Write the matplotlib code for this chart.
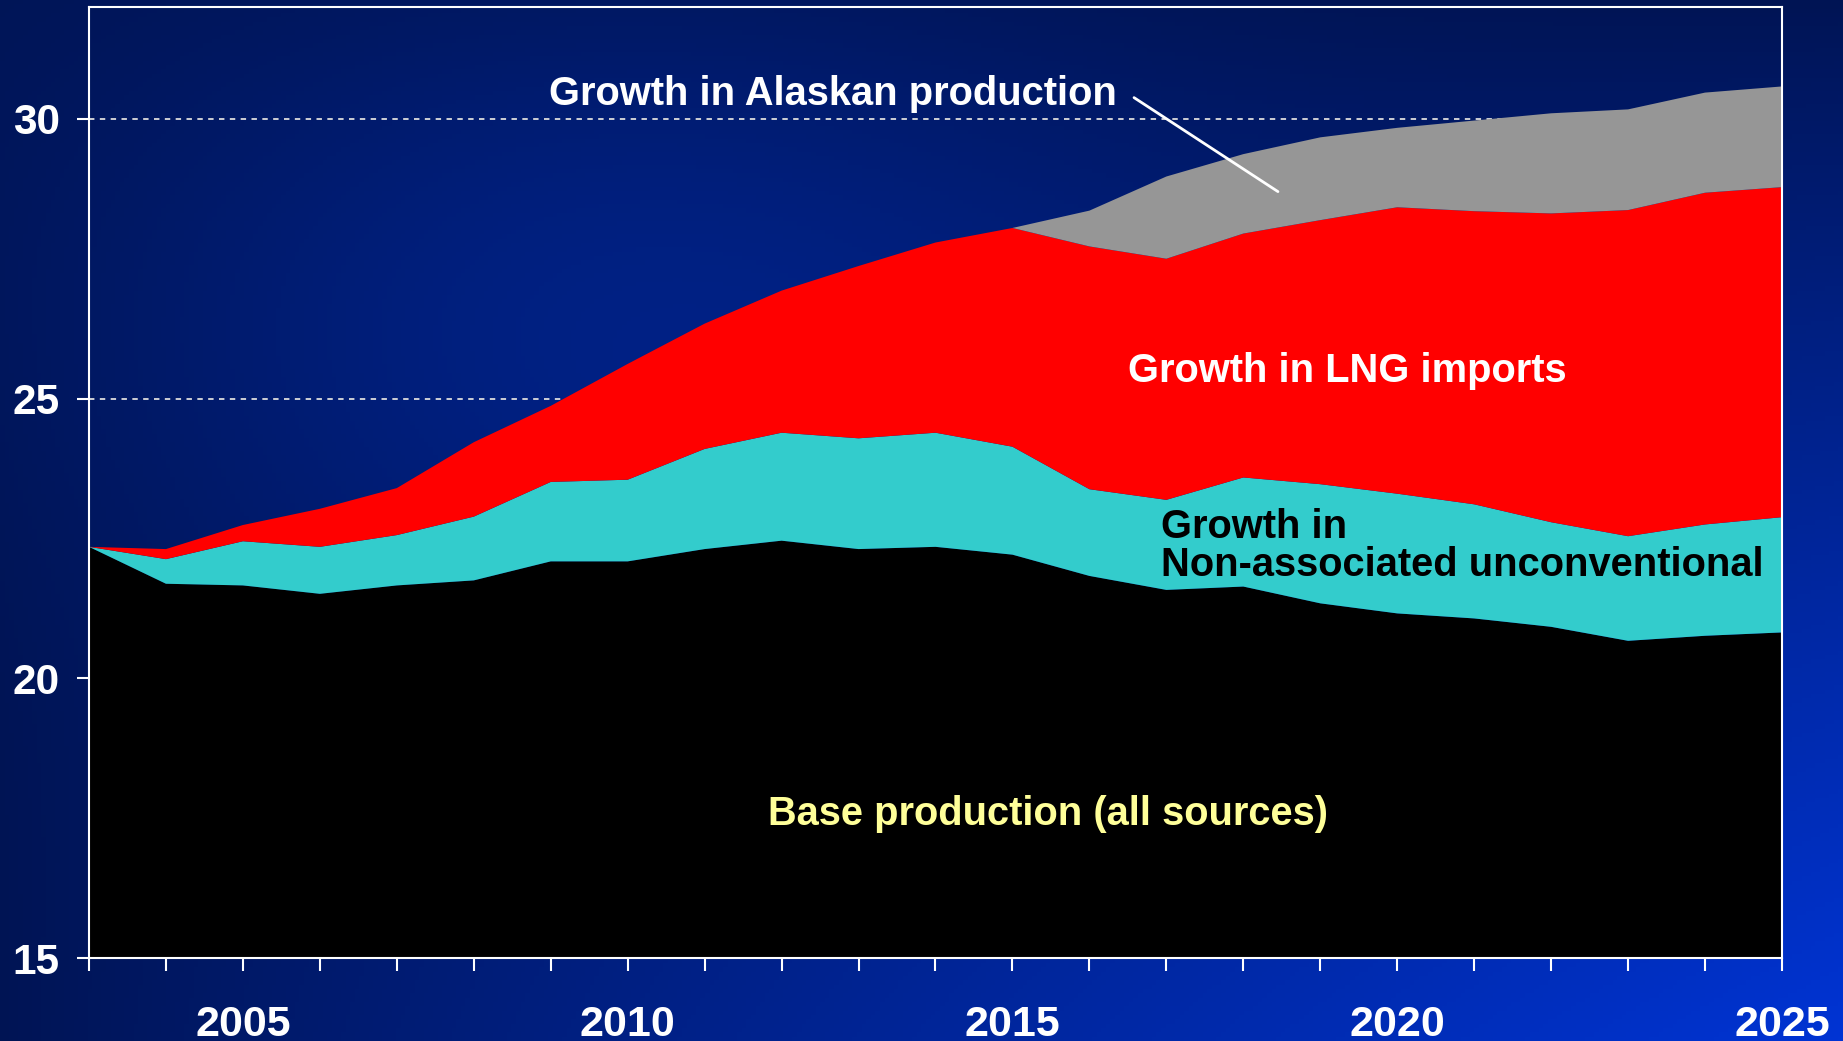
import numpy as np
import matplotlib
matplotlib.use("Agg")
import matplotlib.pyplot as plt

plt.rcParams['font.family'] = ['Liberation Sans', 'DejaVu Sans']
plt.rcParams['font.weight'] = 'bold'

years = list(range(2003, 2026))
base = [22.35, 21.69, 21.66, 21.51, 21.66, 21.75, 22.09, 22.09, 22.31, 22.46, 22.31, 22.35,
        22.21, 21.83, 21.58, 21.64, 21.34, 21.16, 21.07, 20.92, 20.67, 20.76, 20.82]
unconventional = [0.00, 0.44, 0.79, 0.84, 0.90, 1.14, 1.42, 1.46, 1.79, 1.93, 1.98, 2.04,
                  1.93, 1.55, 1.61, 1.95, 2.13, 2.14, 2.04, 1.87, 1.87, 1.99, 2.06]
lng = [0.00, 0.18, 0.29, 0.68, 0.84, 1.33, 1.36, 2.07, 2.24, 2.54, 3.08, 3.40,
       3.91, 4.34, 4.31, 4.36, 4.72, 5.12, 5.24, 5.52, 5.83, 5.93, 5.90]
alaska = [0.00, 0.00, 0.00, 0.00, 0.00, 0.00, 0.00, 0.00, 0.00, 0.00, 0.00, 0.00,
          0.00, 0.64, 1.47, 1.42, 1.48, 1.42, 1.62, 1.79, 1.80, 1.79, 1.80]
colors = ['#000000', '#33CCCC', '#FF0000', '#969696']
ytick_vals = [15, 20, 25, 30]
xtick_labels = ['2005', '2010', '2015', '2020', '2025']

W, H = 1843, 1041
fig = plt.figure(figsize=(W / 100, H / 100), dpi=100)

# background gradient (dark navy -> bright blue towards bottom right, soft glow mid-left)
bg = fig.add_axes([0, 0, 1, 1], zorder=-10)
xx, yy = np.meshgrid(np.linspace(0, 1, 400), np.linspace(0, 1, 240))
t = xx * yy
glow = np.exp(-(((xx - 0.33) / 0.28) ** 2 + ((yy - 0.28) / 0.30) ** 2))
c0 = np.array([0, 20, 84]) / 255
c1 = np.array([0, 52, 212]) / 255
cg = np.array([0, 32, 128]) / 255
img = c0 + (c1 - c0) * t[..., None] ** 0.9
img = img + (cg - c0) * (glow * (1 - t))[..., None] * 0.8
bg.imshow(np.clip(img, 0, 1), aspect='auto', extent=[0, 1, 0, 1], origin='upper')
bg.axis('off')

ax = fig.add_axes([89 / W, 83 / H, (1782 - 89) / W, (958 - 7) / H])
ax.patch.set_alpha(0)
ax.stackplot(years, base, unconventional, lng, alaska, colors=colors, linewidth=0, zorder=2)

ax.set_xlim(2003, 2025)
ax.set_ylim(15, 32)
ax.set_yticks(ytick_vals)
ax.set_yticklabels([str(v) for v in ytick_vals])
ax.set_xticks(years, minor=True)
ax.set_xticks([2005, 2010, 2015, 2020, 2025])
ax.set_xticklabels(xtick_labels)
ax.tick_params(axis='both', which='both', colors='white', width=1.5)
ax.tick_params(axis='y', length=9, pad=12, labelsize=30.5)
ax.tick_params(axis='x', which='both', length=9.5, pad=24, labelsize=31)
for lab in ax.get_xticklabels() + ax.get_yticklabels():
    lab.set_fontweight('bold')
for s in ax.spines.values():
    s.set_color('white')
    s.set_linewidth(1.5)
    s.set_zorder(5)

ax.yaxis.grid(True, color='#dddddd', linestyle=(0, (3, 3)), linewidth=1.3, zorder=0)
ax.set_axisbelow(True)

fs = 28.7
ax.text(2011.82, 17.57, 'Base production (all sources)', color='#FFFF99', fontsize=fs,
        fontweight='bold', va='center', ha='left', zorder=6)
ax.text(2016.50, 25.50, 'Growth in LNG imports', color='white', fontsize=fs,
        fontweight='bold', va='center', ha='left', zorder=6)
ax.text(2016.93, 22.36, 'Growth in\nNon-associated unconventional', color='black', fontsize=fs,
        fontweight='bold', va='center', ha='left', linespacing=1.0, zorder=6)
ax.text(2008.98, 30.45, 'Growth in Alaskan production', color='white', fontsize=fs,
        fontweight='bold', va='center', ha='left', zorder=6)
ax.annotate('', xy=(2018.45, 28.70), xytext=(2016.58, 30.38), zorder=6,
            arrowprops=dict(arrowstyle='-', color='white', lw=2, shrinkA=0, shrinkB=0))

fig.savefig('out.png', dpi=100)
